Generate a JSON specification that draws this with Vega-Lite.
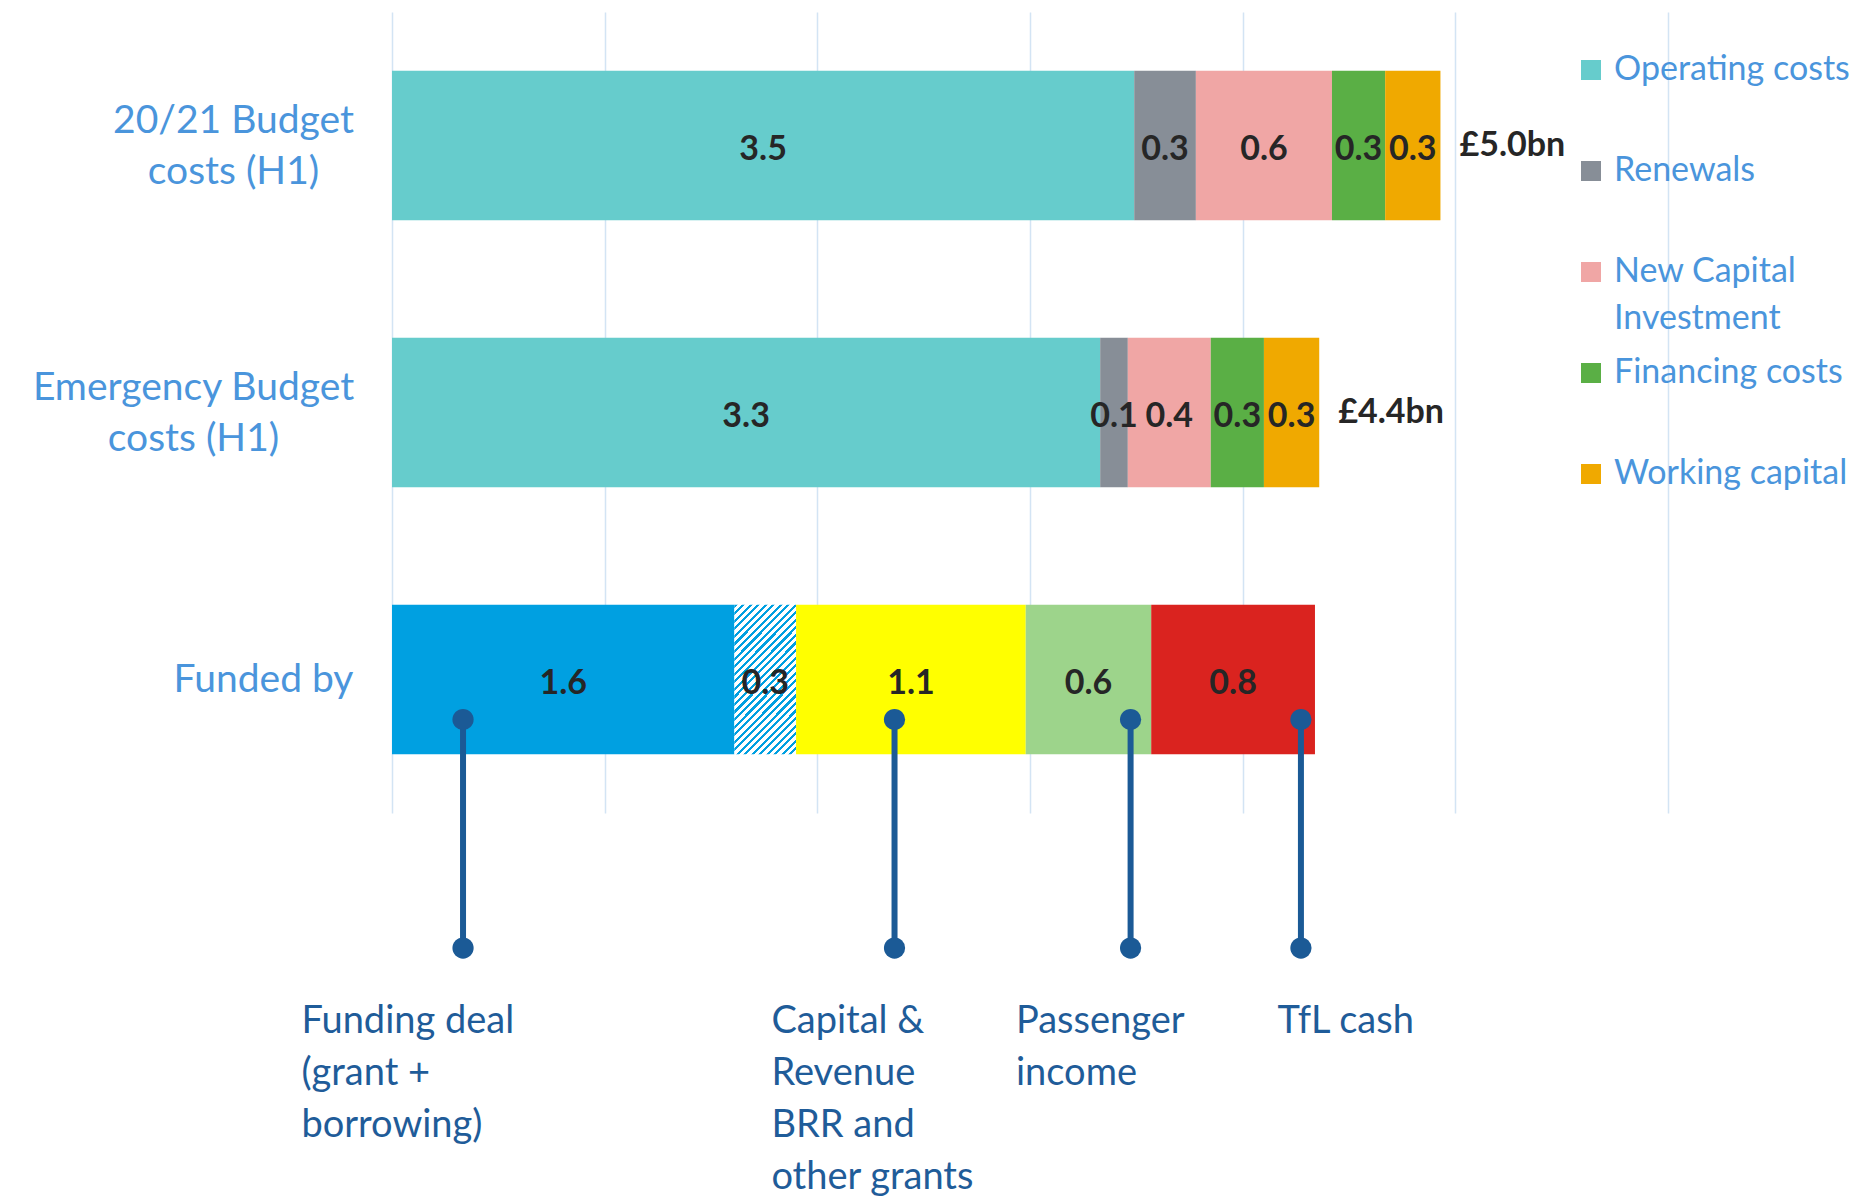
{
  "$schema": "https://vega.github.io/schema/vega-lite/v6.json",
  "width": 1276,
  "height": 801,
  "autosize": {"type": "none"},
  "padding": {"left": 392, "top": 12, "right": 201, "bottom": 384},
  "background": "white",
  "config": {
    "view": {"stroke": null},
    "font": "Lato",
    "axisX": {"grid": true, "gridColor": "#D3E4F4", "gridWidth": 1.5, "labels": false, "ticks": false, "domain": false, "tickCount": 6},
    "axisY": {"grid": false, "ticks": false, "domain": false, "labelFont": "Lato", "labelFontSize": 39, "labelColor": "#4A95DC", "labelLimit": 600, "labelLineHeight": 51}
  },
  "datasets": {
    "segments": [
      {"row": "20/21 Budget costs (H1)", "item": "Operating costs", "value": 3.49, "k": 1},
      {"row": "20/21 Budget costs (H1)", "item": "Renewals", "value": 0.29, "k": 2},
      {"row": "20/21 Budget costs (H1)", "item": "New Capital Investment", "value": 0.64, "k": 3},
      {"row": "20/21 Budget costs (H1)", "item": "Financing costs", "value": 0.25, "k": 4},
      {"row": "20/21 Budget costs (H1)", "item": "Working capital", "value": 0.26, "k": 5},
      {"row": "Emergency Budget costs (H1)", "item": "Operating costs", "value": 3.33, "k": 1},
      {"row": "Emergency Budget costs (H1)", "item": "Renewals", "value": 0.13, "k": 2},
      {"row": "Emergency Budget costs (H1)", "item": "New Capital Investment", "value": 0.39, "k": 3},
      {"row": "Emergency Budget costs (H1)", "item": "Financing costs", "value": 0.25, "k": 4},
      {"row": "Emergency Budget costs (H1)", "item": "Working capital", "value": 0.26, "k": 5},
      {"row": "Funded by", "item": "Funding deal (grant)", "value": 1.61, "k": 1},
      {"row": "Funded by", "item": "Funding deal (borrowing)", "value": 0.29, "k": 2},
      {"row": "Funded by", "item": "Capital & Revenue BRR and other grants", "value": 1.08, "k": 3},
      {"row": "Funded by", "item": "Passenger income", "value": 0.59, "k": 4},
      {"row": "Funded by", "item": "TfL cash", "value": 0.77, "k": 5}
    ],
    "totals": [
      {"row": "20/21 Budget costs (H1)", "label": "£5.0bn"},
      {"row": "Emergency Budget costs (H1)", "label": "£4.4bn"}
    ],
    "pointers": [
      {"name": "Funding deal\n(grant +\nborrowing)", "at": 0.334, "labelAt": -0.426},
      {"name": "Capital &\nRevenue\nBRR and\nother grants", "at": 2.363, "labelAt": 1.784},
      {"name": "Passenger\nincome", "at": 3.473, "labelAt": 2.934},
      {"name": "TfL cash", "at": 4.274, "labelAt": 4.164}
    ]
  },
  "layer": [
    {
      "data": {"name": "segments"},
      "mark": {"type": "bar"},
      "encoding": {
        "y": {
          "field": "row", "type": "nominal", "title": null,
          "scale": {"domain": ["20/21 Budget costs (H1)", "Emergency Budget costs (H1)", "Funded by"], "paddingInner": 0.44, "paddingOuter": 0.22},
          "axis": {
            "labelExpr": "datum.value == '20/21 Budget costs (H1)' ? ['20/21 Budget', 'costs (H1)'] : datum.value == 'Emergency Budget costs (H1)' ? ['Emergency Budget', 'costs (H1)'] : datum.label",
            "labelAlign": "center",
            "labelPadding": {"expr": "datum.value == 'Funded by' ? 129 : datum.value == 'Emergency Budget costs (H1)' ? 199 : 159"},
            "labelOffset": {"expr": "datum.value == 'Funded by' ? 0 : -25"}
          }
        },
        "x": {"field": "value", "type": "quantitative", "stack": "zero", "title": null, "scale": {"domain": [0, 6], "nice": false, "zero": true}},
        "order": {"field": "k", "type": "quantitative"},
        "color": {
          "condition": {
            "test": "datum.item === 'Funding deal (borrowing)'",
            "value": {
              "gradient": "linear", "x1": 0, "y1": 0, "x2": 0.502, "y2": 1.207,
              "stops": [
                {"offset": 0, "color": "#00A0E1"}, {"offset": 0.015, "color": "#00A0E1"}, {"offset": 0.015, "color": "#FFFFFF"}, {"offset": 0.0357, "color": "#FFFFFF"},
                {"offset": 0.0357, "color": "#00A0E1"}, {"offset": 0.0507, "color": "#00A0E1"}, {"offset": 0.0507, "color": "#FFFFFF"}, {"offset": 0.0714, "color": "#FFFFFF"},
                {"offset": 0.0714, "color": "#00A0E1"}, {"offset": 0.0864, "color": "#00A0E1"}, {"offset": 0.0864, "color": "#FFFFFF"}, {"offset": 0.1071, "color": "#FFFFFF"},
                {"offset": 0.1071, "color": "#00A0E1"}, {"offset": 0.1221, "color": "#00A0E1"}, {"offset": 0.1221, "color": "#FFFFFF"}, {"offset": 0.1429, "color": "#FFFFFF"},
                {"offset": 0.1429, "color": "#00A0E1"}, {"offset": 0.1579, "color": "#00A0E1"}, {"offset": 0.1579, "color": "#FFFFFF"}, {"offset": 0.1786, "color": "#FFFFFF"},
                {"offset": 0.1786, "color": "#00A0E1"}, {"offset": 0.1936, "color": "#00A0E1"}, {"offset": 0.1936, "color": "#FFFFFF"}, {"offset": 0.2143, "color": "#FFFFFF"},
                {"offset": 0.2143, "color": "#00A0E1"}, {"offset": 0.2293, "color": "#00A0E1"}, {"offset": 0.2293, "color": "#FFFFFF"}, {"offset": 0.25, "color": "#FFFFFF"},
                {"offset": 0.25, "color": "#00A0E1"}, {"offset": 0.265, "color": "#00A0E1"}, {"offset": 0.265, "color": "#FFFFFF"}, {"offset": 0.2857, "color": "#FFFFFF"},
                {"offset": 0.2857, "color": "#00A0E1"}, {"offset": 0.3007, "color": "#00A0E1"}, {"offset": 0.3007, "color": "#FFFFFF"}, {"offset": 0.3214, "color": "#FFFFFF"},
                {"offset": 0.3214, "color": "#00A0E1"}, {"offset": 0.3364, "color": "#00A0E1"}, {"offset": 0.3364, "color": "#FFFFFF"}, {"offset": 0.3571, "color": "#FFFFFF"},
                {"offset": 0.3571, "color": "#00A0E1"}, {"offset": 0.3721, "color": "#00A0E1"}, {"offset": 0.3721, "color": "#FFFFFF"}, {"offset": 0.3929, "color": "#FFFFFF"},
                {"offset": 0.3929, "color": "#00A0E1"}, {"offset": 0.4079, "color": "#00A0E1"}, {"offset": 0.4079, "color": "#FFFFFF"}, {"offset": 0.4286, "color": "#FFFFFF"},
                {"offset": 0.4286, "color": "#00A0E1"}, {"offset": 0.4436, "color": "#00A0E1"}, {"offset": 0.4436, "color": "#FFFFFF"}, {"offset": 0.4643, "color": "#FFFFFF"},
                {"offset": 0.4643, "color": "#00A0E1"}, {"offset": 0.4793, "color": "#00A0E1"}, {"offset": 0.4793, "color": "#FFFFFF"}, {"offset": 0.5, "color": "#FFFFFF"},
                {"offset": 0.5, "color": "#00A0E1"}, {"offset": 0.515, "color": "#00A0E1"}, {"offset": 0.515, "color": "#FFFFFF"}, {"offset": 0.5357, "color": "#FFFFFF"},
                {"offset": 0.5357, "color": "#00A0E1"}, {"offset": 0.5507, "color": "#00A0E1"}, {"offset": 0.5507, "color": "#FFFFFF"}, {"offset": 0.5714, "color": "#FFFFFF"},
                {"offset": 0.5714, "color": "#00A0E1"}, {"offset": 0.5864, "color": "#00A0E1"}, {"offset": 0.5864, "color": "#FFFFFF"}, {"offset": 0.6071, "color": "#FFFFFF"},
                {"offset": 0.6071, "color": "#00A0E1"}, {"offset": 0.6221, "color": "#00A0E1"}, {"offset": 0.6221, "color": "#FFFFFF"}, {"offset": 0.6429, "color": "#FFFFFF"},
                {"offset": 0.6429, "color": "#00A0E1"}, {"offset": 0.6579, "color": "#00A0E1"}, {"offset": 0.6579, "color": "#FFFFFF"}, {"offset": 0.6786, "color": "#FFFFFF"},
                {"offset": 0.6786, "color": "#00A0E1"}, {"offset": 0.6936, "color": "#00A0E1"}, {"offset": 0.6936, "color": "#FFFFFF"}, {"offset": 0.7143, "color": "#FFFFFF"},
                {"offset": 0.7143, "color": "#00A0E1"}, {"offset": 0.7293, "color": "#00A0E1"}, {"offset": 0.7293, "color": "#FFFFFF"}, {"offset": 0.75, "color": "#FFFFFF"},
                {"offset": 0.75, "color": "#00A0E1"}, {"offset": 0.765, "color": "#00A0E1"}, {"offset": 0.765, "color": "#FFFFFF"}, {"offset": 0.7857, "color": "#FFFFFF"},
                {"offset": 0.7857, "color": "#00A0E1"}, {"offset": 0.8007, "color": "#00A0E1"}, {"offset": 0.8007, "color": "#FFFFFF"}, {"offset": 0.8214, "color": "#FFFFFF"},
                {"offset": 0.8214, "color": "#00A0E1"}, {"offset": 0.8364, "color": "#00A0E1"}, {"offset": 0.8364, "color": "#FFFFFF"}, {"offset": 0.8571, "color": "#FFFFFF"},
                {"offset": 0.8571, "color": "#00A0E1"}, {"offset": 0.8721, "color": "#00A0E1"}, {"offset": 0.8721, "color": "#FFFFFF"}, {"offset": 0.8929, "color": "#FFFFFF"},
                {"offset": 0.8929, "color": "#00A0E1"}, {"offset": 0.9079, "color": "#00A0E1"}, {"offset": 0.9079, "color": "#FFFFFF"}, {"offset": 0.9286, "color": "#FFFFFF"},
                {"offset": 0.9286, "color": "#00A0E1"}, {"offset": 0.9436, "color": "#00A0E1"}, {"offset": 0.9436, "color": "#FFFFFF"}, {"offset": 0.9643, "color": "#FFFFFF"},
                {"offset": 0.9643, "color": "#00A0E1"}, {"offset": 0.9793, "color": "#00A0E1"}, {"offset": 0.9793, "color": "#FFFFFF"}, {"offset": 1, "color": "#FFFFFF"}
              ]
            }
          },
          "field": "item", "type": "nominal",
          "scale": {
            "domain": ["Operating costs", "Renewals", "New Capital Investment", "Financing costs", "Working capital", "Funding deal (grant)", "Capital & Revenue BRR and other grants", "Passenger income", "TfL cash"],
            "range": ["#66CCCC", "#878E97", "#F0A6A5", "#5AAF45", "#F0A900", "#00A0E1", "#FFFF00", "#9DD48B", "#DA231F"]
          },
          "legend": {
            "values": ["Operating costs", "Renewals", "New Capital Investment", "Financing costs", "Working capital"],
            "title": null, "orient": "none", "legendX": 1182, "legendY": 41, "padding": 0,
            "symbolType": "square", "symbolSize": 400, "symbolStrokeWidth": 0,
            "labelFont": "Lato", "labelFontSize": 34, "labelColor": "#4A95DC", "labelLimit": 400, "labelOffset": 6,
            "rowPadding": 20,
            "encode": {"labels": {"update": {"lineHeight": {"value": 47}}}},
            "labelExpr": "datum.label == 'New Capital Investment' ? ['New Capital', 'Investment'] : [datum.label, '']"
          }
        }
      }
    },
    {
      "data": {"name": "segments"},
      "mark": {"type": "text", "font": "Lato", "fontWeight": "bold", "fontSize": 34, "color": "#262626", "baseline": "middle", "align": "center", "dy": 4},
      "encoding": {
        "y": {"field": "row", "type": "nominal", "title": null},
        "x": {"field": "value", "type": "quantitative", "stack": "zero", "bandPosition": 0.5, "title": null},
        "detail": {"field": "item"},
        "order": {"field": "k", "type": "quantitative"},
        "text": {"field": "value", "type": "quantitative", "format": ".1f"}
      }
    },
    {
      "data": {"name": "segments"},
      "transform": [
        {"filter": "datum.row !== 'Funded by'"},
        {"aggregate": [{"op": "sum", "field": "value", "as": "total"}], "groupby": ["row"]},
        {"lookup": "row", "from": {"data": {"name": "totals"}, "key": "row", "fields": ["label"]}}
      ],
      "mark": {"type": "text", "font": "Lato", "fontWeight": "bold", "fontSize": 34, "color": "#262626", "baseline": "middle", "align": "left", "dx": 19},
      "encoding": {
        "y": {"field": "row", "type": "nominal", "title": null},
        "x": {"field": "total", "type": "quantitative", "title": null},
        "text": {"field": "label"}
      }
    },
    {
      "data": {"name": "pointers"},
      "mark": {"type": "rule", "color": "#1B5A96", "strokeWidth": 6},
      "encoding": {
        "x": {"field": "at", "type": "quantitative", "title": null},
        "y": {"datum": "Funded by", "type": "nominal", "bandPosition": 0.768},
        "y2": {"datum": "Funded by", "bandPosition": 2.296}
      }
    },
    {
      "data": {"name": "pointers"},
      "mark": {"type": "point", "filled": true, "color": "#1B5A96", "opacity": 1, "size": 450, "shape": "circle"},
      "encoding": {
        "x": {"field": "at", "type": "quantitative", "title": null},
        "y": {"datum": "Funded by", "type": "nominal", "bandPosition": 0.768}
      }
    },
    {
      "data": {"name": "pointers"},
      "mark": {"type": "point", "filled": true, "color": "#1B5A96", "opacity": 1, "size": 450, "shape": "circle"},
      "encoding": {
        "x": {"field": "at", "type": "quantitative", "title": null},
        "y": {"datum": "Funded by", "type": "nominal", "bandPosition": 2.296}
      }
    },
    {
      "data": {"name": "pointers"},
      "mark": {"type": "text", "font": "Lato", "fontSize": 38, "color": "#1F5C99", "align": "left", "baseline": "top", "lineBreak": "\n", "lineHeight": 52},
      "encoding": {
        "x": {"field": "labelAt", "type": "quantitative", "title": null},
        "y": {"datum": "Funded by", "type": "nominal", "bandPosition": 2.664},
        "text": {"field": "name"}
      }
    }
  ]
}
